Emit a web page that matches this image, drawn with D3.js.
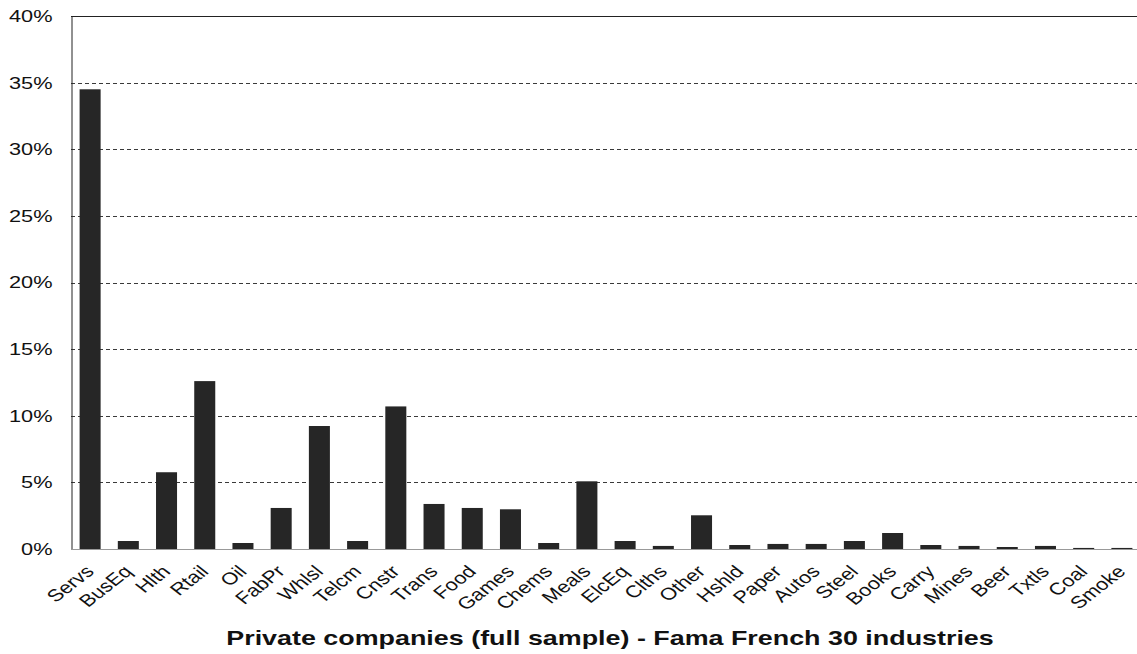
<!DOCTYPE html>
<html>
<head>
<meta charset="utf-8">
<script src="https://cdn.jsdelivr.net/npm/d3@7"></script>
<style>
  body { margin: 0; background: #fff; }
  text { font-family: "Liberation Sans", Arial, sans-serif; fill: #111; }
</style>
</head>
<body>
<div class="container"></div>
<script>
// industry shares
var industries = ["Servs", "BusEq", "Hlth", "Rtail", "Oil", "FabPr", "Whlsl", "Telcm", "Cnstr", "Trans",
  "Food", "Games", "Chems", "Meals", "ElcEq", "Clths", "Other", "Hshld", "Paper", "Autos",
  "Steel", "Books", "Carry", "Mines", "Beer", "Txtls", "Coal", "Smoke"];
var shares = [0.345, 0.006, 0.0576, 0.126, 0.0045, 0.0308, 0.0923, 0.006, 0.107, 0.0338,
  0.0308, 0.0298, 0.0045, 0.0508, 0.006, 0.0023, 0.0253, 0.003, 0.0038, 0.0038,
  0.006, 0.012, 0.003, 0.0023, 0.0015, 0.0023, 0.0008, 0.0008];
var yTicks = [0, 0.05, 0.10, 0.15, 0.20, 0.25, 0.30, 0.35, 0.40];
var title = "Private companies (full sample) - Fama French 30 industries";

var width = 1137, height = 654;
var margin = { top: 16, left: 71, bottom: 105, right: 0 };
var stretch = 1.28; // the original picture is wider than tall text would be

var svg = d3.select(".container").append("svg")
  .attr("width", width)
  .attr("height", height);

var data = industries.map(function (d, i) { return { name: d, value: shares[i] }; });

var x = d3.scaleBand()
  .domain(industries)
  .range([margin.left, 1141])
  .paddingInner(0.45)
  .paddingOuter(0.225);

var y = d3.scaleLinear()
  .domain([0, 0.40])
  .range([height - margin.bottom, margin.top]);

// dashed gridlines
svg.append("g")
  .selectAll("line")
  .data(yTicks.filter(function (d) { return d > 0 && d < 0.40; }))
  .join("line")
  .attr("x1", margin.left)
  .attr("x2", width)
  .attr("y1", function (d) { return Math.round(y(d)) + 0.5; })
  .attr("y2", function (d) { return Math.round(y(d)) + 0.5; })
  .attr("stroke", "#3a3a3a")
  .attr("stroke-width", 1)
  .attr("stroke-dasharray", "4,3");

// top frame line
svg.append("line")
  .attr("x1", margin.left).attr("x2", width)
  .attr("y1", Math.round(y(0.40)) + 0.5).attr("y2", Math.round(y(0.40)) + 0.5)
  .attr("stroke", "#222").attr("stroke-width", 1);

// bars
svg.append("g")
  .selectAll("rect")
  .data(data)
  .join("rect")
  .attr("x", function (d) { return x(d.name); })
  .attr("y", function (d) { return y(d.value); })
  .attr("width", x.bandwidth())
  .attr("height", function (d) { return y(0) - y(d.value); })
  .attr("fill", "#262626");

// y axis
var yAxis = d3.axisLeft(y)
  .tickValues(yTicks)
  .tickFormat(d3.format(".0%"))
  .tickSize(0);

var gy = svg.append("g")
  .attr("transform", "translate(" + (margin.left + 0.5) + ",0)")
  .call(yAxis);
gy.select(".domain").attr("stroke", "#222");
gy.selectAll("text")
  .style("font-size", "17px")
  .style("font-family", "'Liberation Sans', Arial, sans-serif")
  .attr("fill", "#111")
  .attr("x", 0)
  .attr("transform", "translate(-19,0) scale(" + stretch + ",1)");

// x axis
var xAxis = d3.axisBottom(x).tickSize(0).tickPadding(0);
var gx = svg.append("g")
  .attr("transform", "translate(0," + (Math.round(y(0)) + 0.5) + ")")
  .call(xAxis);
gx.select(".domain").attr("stroke", "#999").attr("d", "M" + margin.left + ",0H" + width);
gx.selectAll("text")
  .style("font-size", "17px")
  .style("font-family", "'Liberation Sans', Arial, sans-serif")
  .attr("fill", "#111")
  .attr("text-anchor", "end")
  .attr("y", 0)
  .attr("dy", "0")
  .attr("transform", "translate(5,23) scale(" + stretch + ",1) rotate(-45)");

// axis title
svg.append("text")
  .attr("transform", "translate(610,645) scale(" + stretch + ",1)")
  .attr("text-anchor", "middle")
  .style("font-size", "21px")
  .style("font-weight", "bold")
  .text(title);
</script>
</body>
</html>
